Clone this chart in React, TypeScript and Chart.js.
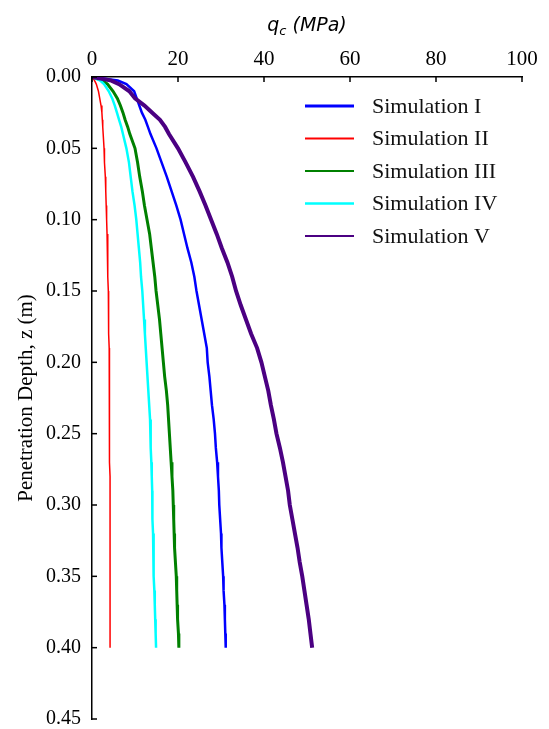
import React, { useEffect, useRef } from 'react';
import { Chart, registerables } from 'chart.js';

Chart.register(...registerables);

// Penetration depth z (m)
const depth = [
  0, 0.0025, 0.005, 0.01, 0.015, 0.02, 0.025, 0.03, 0.035, 0.04,
  0.05, 0.06, 0.07, 0.08, 0.09, 0.10, 0.11, 0.12, 0.13, 0.14,
  0.15, 0.16, 0.17, 0.18, 0.19, 0.20, 0.21, 0.22, 0.23, 0.24,
  0.25, 0.26, 0.27, 0.28, 0.29, 0.30, 0.31, 0.32, 0.33, 0.34,
  0.35, 0.36, 0.37, 0.38, 0.39, 0.40,
];

const seriesLabels = ['Simulation I', 'Simulation II', 'Simulation III', 'Simulation IV', 'Simulation V'];

// q_c (MPa) per simulation
const simI = [
  0, 6.0, 8.0, 9.8, 10.4, 11.0, 11.6, 12.4, 13.0, 13.6,
  15.0, 16.2, 17.4, 18.5, 19.6, 20.6, 21.4, 22.2, 23.1, 23.8,
  24.3, 24.9, 25.5, 26.1, 26.7, 26.9, 27.3, 27.6, 27.9, 28.3,
  28.6, 28.8, 29.1, 29.3, 29.5, 29.6, 29.8, 30.0, 30.1, 30.3,
  30.5, 30.6, 30.8, 30.9, 31.0, 31.1,
];
const simII = [
  0, 0.6, 1.0, 1.5, 1.8, 2.1, 2.3, 2.4, 2.5, 2.6,
  2.8, 2.9, 3.1, 3.2, 3.3, 3.4, 3.5, 3.6, 3.7, 3.7,
  3.8, 3.8, 3.9, 3.9, 4.0, 4.0, 4.0, 4.0, 4.1, 4.1,
  4.1, 4.1, 4.1, 4.2, 4.2, 4.2, 4.2, 4.2, 4.2, 4.2,
  4.2, 4.2, 4.2, 4.2, 4.2, 4.2,
];
const simIII = [
  0, 2.5, 3.6, 4.9, 5.9, 6.6, 7.2, 7.7, 8.3, 8.8,
  10.0, 10.6, 11.1, 11.7, 12.2, 12.8, 13.4, 13.8, 14.2, 14.6,
  14.9, 15.3, 15.7, 16.0, 16.3, 16.6, 16.9, 17.3, 17.6, 17.8,
  18.0, 18.2, 18.4, 18.6, 18.8, 18.9, 19.0, 19.1, 19.2, 19.4,
  19.6, 19.7, 19.8, 19.9, 20.1, 20.2,
];
const simIV = [
  0, 1.9, 2.8, 3.9, 4.7, 5.3, 5.8, 6.3, 6.8, 7.2,
  8.0, 8.6, 9.0, 9.4, 9.9, 10.3, 10.6, 10.9, 11.2, 11.4,
  11.7, 11.9, 12.1, 12.3, 12.5, 12.7, 12.9, 13.1, 13.3, 13.5,
  13.6, 13.7, 13.8, 13.9, 14.0, 14.0, 14.1, 14.2, 14.3, 14.3,
  14.4, 14.5, 14.6, 14.7, 14.8, 14.9,
];
const simV = [
  0, 4.5, 6.3, 8.7, 10.0, 12.2, 14.0, 15.8, 17.0, 17.9,
  20.0, 21.8, 23.5, 25.0, 26.4, 27.7, 29.0, 30.2, 31.5, 32.6,
  33.5, 34.6, 35.8, 37.0, 38.4, 39.4, 40.2, 41.0, 41.6, 42.3,
  42.9, 43.7, 44.4, 45.0, 45.6, 46.0, 46.6, 47.2, 47.8, 48.3,
  48.9, 49.4, 49.9, 50.4, 50.8, 51.2,
];

const xTickStep = 20;
const yTickStep = 0.05;

const seriesValues = [simI, simII, simIII, simIV, simV];
const colors = ['#0000ff', '#ff0000', '#008000', '#00ffff', '#4b0082'];
const lineWidths = [2.5, 1.5, 3, 2.5, 4];
const legendWidths = [3, 2, 2, 2.5, 2];

const SERIF = '"Liberation Serif", "Times New Roman", serif';

const customPlugin = {
  id: 'customDecor',
  afterDraw(chart: any) {
    const ctx = chart.ctx;
    const xs = chart.scales.x;
    const ys = chart.scales.y;
    const { top, left, right } = chart.chartArea;
    ctx.save();
    // inward ticks
    ctx.strokeStyle = '#000';
    ctx.lineWidth = 1.5;
    xs.ticks.forEach((t: any) => {
      const px = xs.getPixelForValue(t.value);
      ctx.beginPath();
      ctx.moveTo(px, top);
      ctx.lineTo(px, top + 5);
      ctx.stroke();
    });
    ys.ticks.forEach((t: any) => {
      const py = ys.getPixelForValue(t.value);
      ctx.beginPath();
      ctx.moveTo(left, py);
      ctx.lineTo(left + 5, py);
      ctx.stroke();
    });

    // x-axis title: q_c (MPa)
    ctx.fillStyle = '#000';
    ctx.textBaseline = 'alphabetic';
    ctx.textAlign = 'left';
    const big = 'oblique 19px "DejaVu Sans", sans-serif';
    const small = 'oblique 13px "DejaVu Sans", sans-serif';
    ctx.font = big;
    const wq = ctx.measureText('q').width;
    const wRest = ctx.measureText(' (MPa)').width;
    ctx.font = small;
    const wc = ctx.measureText('c').width;
    const total = wq + wc + wRest;
    let tx = (left + right) / 2 - total / 2;
    const baseY = 31;
    ctx.font = big;
    ctx.fillText('q', tx, baseY);
    tx += wq;
    ctx.font = small;
    ctx.fillText('c', tx, baseY + 4);
    tx += wc;
    ctx.font = big;
    ctx.fillText(' (MPa)', tx, baseY);

    // legend
    const lx0 = left + 213;
    const ly0 = top + 29;
    ctx.font = `22px ${SERIF}`;
    ctx.textBaseline = 'middle';
    chart.data.datasets.forEach((ds: any, i: number) => {
      const y = ly0 + i * 32.5;
      ctx.strokeStyle = ds.borderColor;
      ctx.lineWidth = legendWidths[i];
      ctx.beginPath();
      ctx.moveTo(lx0, y);
      ctx.lineTo(lx0 + 49, y);
      ctx.stroke();
      ctx.fillStyle = '#111';
      ctx.fillText(ds.label, lx0 + 67, y + 1);
    });
    ctx.restore();
  },
};

export default function App() {
  const ref = useRef<HTMLCanvasElement | null>(null);

  useEffect(() => {
    if (!ref.current) return;
    const datasets = seriesLabels.map((label, i) => ({
      label,
      data: depth.map((z, k) => ({ x: seriesValues[i][k], y: z })),
      borderColor: colors[i],
      backgroundColor: colors[i],
      borderWidth: lineWidths[i],
      pointRadius: 0,
      tension: 0,
      fill: false,
      order: 4 - i,
    }));
    const chart = new Chart(ref.current, {
      type: 'line',
      data: { datasets },
      plugins: [customPlugin],
      options: {
        responsive: false,
        animation: false,
        devicePixelRatio: 1,
        layout: { padding: { left: 0, top: 0, right: 27, bottom: 10 } },
        plugins: {
          legend: { display: false },
          tooltip: { enabled: false },
        },
        scales: {
          x: {
            type: 'linear',
            position: 'top',
            min: 0,
            max: 100,
            grid: { display: false, drawTicks: false, tickLength: 0 },
            border: { display: true, color: '#000', width: 1.5 },
            ticks: {
              stepSize: xTickStep,
              color: '#000',
              padding: 5,
              font: { family: SERIF, size: 21 },
            },
            afterFit: (axis: any) => {
              axis.height = 77;
              axis.paddingLeft = 0;
              axis.paddingRight = 0;
            },
          },
          y: {
            type: 'linear',
            reverse: true,
            min: 0,
            max: 0.45,
            grid: { display: false, drawTicks: false, tickLength: 0 },
            border: { display: true, color: '#000', width: 1.5 },
            ticks: {
              stepSize: yTickStep,
              color: '#000',
              padding: 11,
              font: { family: SERIF, size: 20 },
              callback: (v: any) => Number(v).toFixed(2),
            },
            title: {
              display: true,
              text: 'Penetration Depth, z (m)',
              color: '#000',
              font: { family: SERIF, size: 21 },
              padding: { top: 14, bottom: 0 },
            },
            afterFit: (axis: any) => {
              axis.width = 92;
              axis.paddingTop = 0;
              axis.paddingBottom = 0;
            },
          },
        },
      } as any,
    });
    return () => chart.destroy();
  }, []);

  return (
    <div style={{ position: 'absolute', left: 0, top: 0, width: 549, height: 729, background: '#fff' }}>
      <canvas ref={ref} width={549} height={729} style={{ display: 'block' }} />
    </div>
  );
}
